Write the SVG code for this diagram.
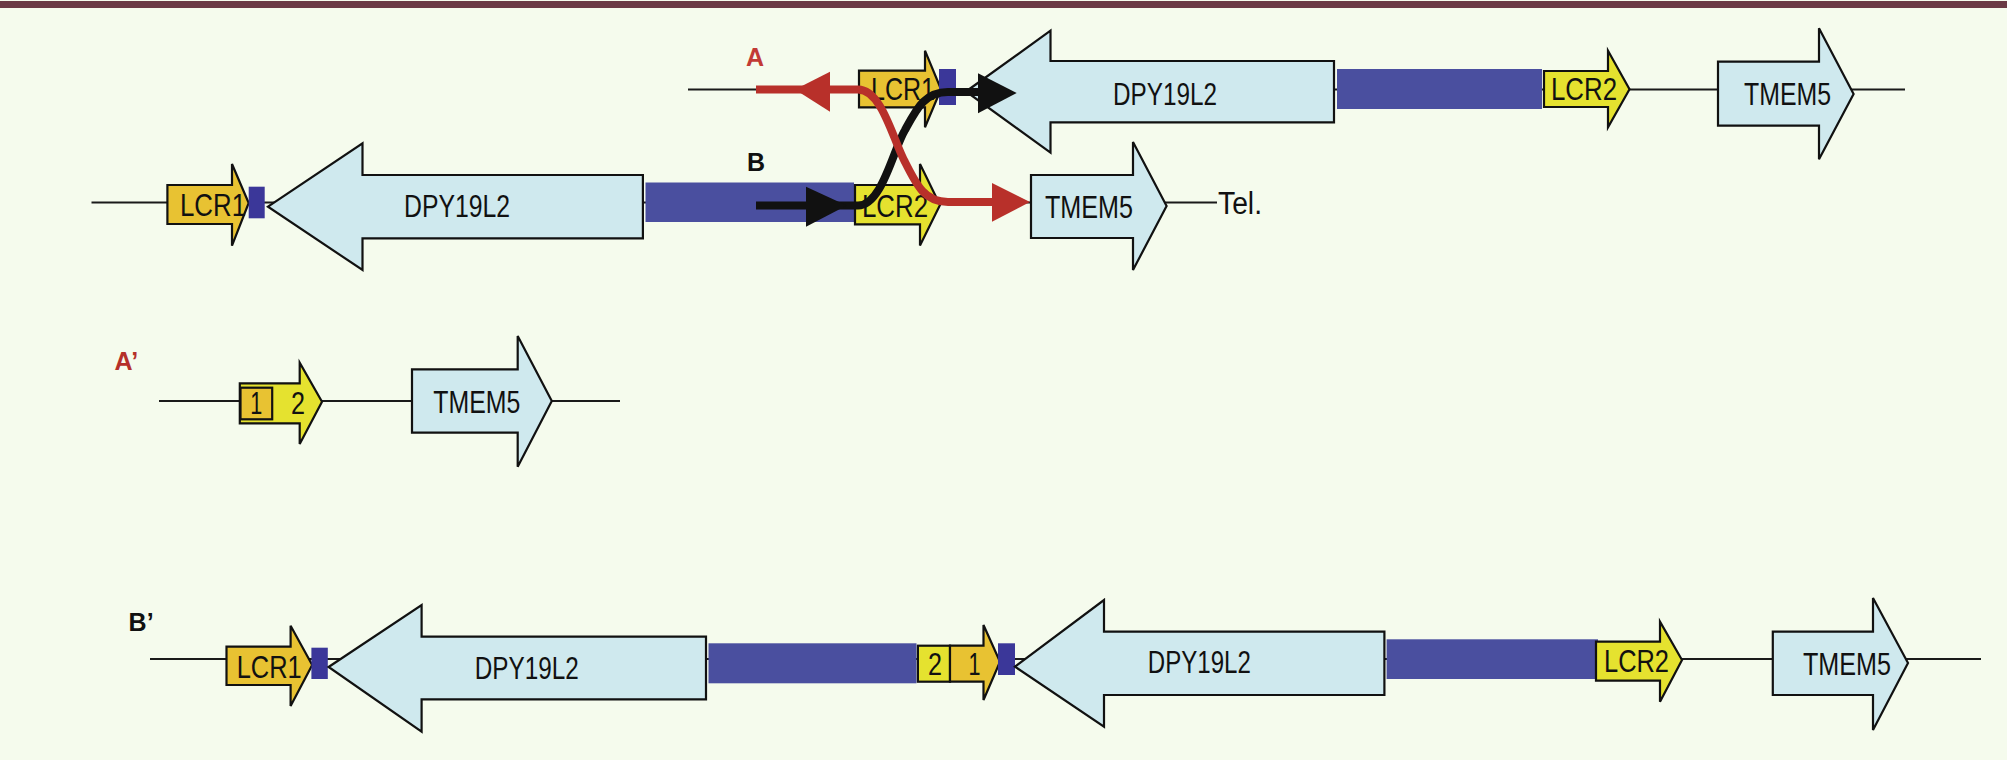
<svg xmlns="http://www.w3.org/2000/svg" width="2007" height="760" viewBox="0 0 2007 760">
<style>
.bg{fill:#f5fbed}
.topbar{fill:#6b3a45}
.bb{stroke:#1a1a1a;stroke-width:2;fill:none}
.gene{fill:#cfe9ee;stroke:#111;stroke-width:2.2;stroke-linejoin:miter}
.l1{fill:#e8c232;stroke:#111;stroke-width:2.2}
.l2{fill:#e5e22f;stroke:#111;stroke-width:2.2}
.bar{fill:#4a4f9f}
.sq{fill:#3b3799}
.t{font-family:"Liberation Sans",Arial,sans-serif;font-size:31px;fill:#111}
.lab{font-family:"Liberation Sans",Arial,sans-serif;font-weight:bold;font-size:25px}
.red{stroke:#b8302a;stroke-width:8;fill:none}
.blk{stroke:#111;stroke-width:8;fill:none}
.redh{fill:#b8302a}
.blkh{fill:#111}
</style>
<rect class="bg" x="0" y="0" width="2007" height="760"/>
<rect class="topbar" x="0" y="1" width="2007" height="7"/>

<g id="backbones">
<line class="bb" x1="688" y1="89.5" x2="1905" y2="89.5"/>
<line class="bb" x1="91.5" y1="202.5" x2="1217" y2="202.5"/>
<line class="bb" x1="159" y1="401" x2="620" y2="401"/>
<line class="bb" x1="150" y1="659" x2="1981" y2="659"/>
</g>

<!-- Row 1 -->
<g id="r1-lcr1">
<polygon class="l1" points="859,70.7 925,70.7 925,50.7 941,89.3 925,127.3 925,107.3 859,107.3"/>
<text class="t" x="871" y="100" textLength="64" lengthAdjust="spacingAndGlyphs">LCR1</text>
</g>
<g id="r1-sq"><rect class="sq" x="939" y="69" width="17" height="36"/></g>
<g id="r1-dpy19l2">
<polygon class="gene" points="966,91.5 1050.5,30.7 1050.5,61 1334,61 1334,122.3 1050.5,122.3 1050.5,152.7"/>
<text class="t" x="1113" y="105" textLength="104" lengthAdjust="spacingAndGlyphs">DPY19L2</text>
</g>
<g id="r1-bar"><rect class="bar" x="1337" y="69" width="205" height="40"/></g>
<g id="r1-lcr2">
<polygon class="l2" points="1544,71 1608,71 1608,50.7 1629.5,89.3 1608,127.3 1608,107 1544,107"/>
<text class="t" x="1551" y="100" textLength="66" lengthAdjust="spacingAndGlyphs">LCR2</text>
</g>
<g id="r1-tmem5">
<polygon class="gene" points="1718,61.7 1819,61.7 1819,28.3 1853.6,94 1819,159.3 1819,125.7 1718,125.7"/>
<text class="t" x="1744" y="105" textLength="87" lengthAdjust="spacingAndGlyphs">TMEM5</text>
</g>

<!-- Row 2 -->
<g id="r2-lcr1">
<polygon class="l1" points="167.4,185 232,185 232,164 248.7,203 232,245.7 232,224 167.4,224"/>
<text class="t" x="180" y="215.7" textLength="66" lengthAdjust="spacingAndGlyphs">LCR1</text>
</g>
<g id="r2-sq"><rect class="sq" x="248.7" y="186.7" width="16" height="31.6"/></g>
<g id="r2-dpy19l2">
<polygon class="gene" points="268,206.7 362.5,143.3 362.5,175 642.9,175 642.9,238.3 362.5,238.3 362.5,270"/>
<text class="t" x="404" y="216.7" textLength="106" lengthAdjust="spacingAndGlyphs">DPY19L2</text>
</g>
<g id="r2-bar"><rect class="bar" x="645.5" y="182.5" width="208.5" height="39.5"/></g>
<g id="r2-lcr2">
<polygon class="l2" points="855,185 920,185 920,164 940,205 920,245.5 920,224.3 855,224.3"/>
<text class="t" x="862" y="216.7" textLength="66" lengthAdjust="spacingAndGlyphs">LCR2</text>
</g>
<g id="r2-tmem5">
<polygon class="gene" points="1031,175 1133,175 1133,142 1166.6,206 1133,270 1133,238 1031,238"/>
<text class="t" x="1045" y="218" textLength="88" lengthAdjust="spacingAndGlyphs">TMEM5</text>
</g>
<g id="tel">
<text class="t" x="1218" y="214.3" font-size="30" textLength="44" lengthAdjust="spacingAndGlyphs">Tel.</text>
</g>

<!-- Row 3 -->
<g id="r3-fusion">
<polygon class="l2" points="239.8,383.3 299.7,383.3 299.7,362.7 322,401.7 299.7,444 299.7,423.3 239.8,423.3"/>
<rect class="l1" x="240.5" y="387.7" width="31.7" height="31.6"/>
<text class="t" x="256.3" y="414" font-size="29" text-anchor="middle" textLength="12" lengthAdjust="spacingAndGlyphs">1</text>
<text class="t" x="298" y="414" font-size="29" text-anchor="middle" textLength="14" lengthAdjust="spacingAndGlyphs">2</text>
</g>
<g id="r3-tmem5">
<polygon class="gene" points="412,369.3 517.7,369.3 517.7,336 551.8,401 517.7,466.7 517.7,432.7 412,432.7"/>
<text class="t" x="433.3" y="413.3" textLength="87" lengthAdjust="spacingAndGlyphs">TMEM5</text>
</g>

<!-- Row 4 -->
<g id="r4-lcr1">
<polygon class="l1" points="226.5,646.7 290.6,646.7 290.6,625.7 312.2,665 290.6,706 290.6,685 226.5,685"/>
<text class="t" x="236.7" y="678.3" textLength="65" lengthAdjust="spacingAndGlyphs">LCR1</text>
</g>
<g id="r4-sq1"><rect class="sq" x="311.4" y="647.7" width="16.4" height="31.3"/></g>
<g id="r4-dpy19l2-a">
<polygon class="gene" points="328.6,667 421.6,605 421.6,636.7 706,636.7 706,699.3 421.6,699.3 421.6,731.7"/>
<text class="t" x="474.7" y="679" textLength="104" lengthAdjust="spacingAndGlyphs">DPY19L2</text>
</g>
<g id="r4-bar1"><rect class="bar" x="708.5" y="643.3" width="208" height="40"/></g>
<g id="r4-fusion">
<rect class="l2" x="917.9" y="645.7" width="32.1" height="36"/>
<polygon class="l1" points="950,645.7 983.5,645.7 983.5,625 1000,661.7 983.5,700 983.5,681.7 950,681.7"/>
<text class="t" x="935" y="675" font-size="29" text-anchor="middle" textLength="14" lengthAdjust="spacingAndGlyphs">2</text>
<text class="t" x="974.5" y="675" font-size="29" text-anchor="middle" textLength="12" lengthAdjust="spacingAndGlyphs">1</text>
</g>
<g id="r4-sq2"><rect class="sq" x="998" y="643.3" width="17" height="31.7"/></g>
<g id="r4-dpy19l2-b">
<polygon class="gene" points="1015,666.7 1104,600 1104,631.7 1384.4,631.7 1384.4,695 1104,695 1104,726.7"/>
<text class="t" x="1147.8" y="673" textLength="103" lengthAdjust="spacingAndGlyphs">DPY19L2</text>
</g>
<g id="r4-bar2"><rect class="bar" x="1386.6" y="639.3" width="211.4" height="39.7"/></g>
<g id="r4-lcr2">
<polygon class="l2" points="1596,641.7 1660,641.7 1660,621.7 1682,660 1660,701.7 1660,680.7 1596,680.7"/>
<text class="t" x="1604" y="672" textLength="65" lengthAdjust="spacingAndGlyphs">LCR2</text>
</g>
<g id="r4-tmem5">
<polygon class="gene" points="1772.8,631.7 1873,631.7 1873,598 1908,663 1873,730 1873,695 1772.8,695"/>
<text class="t" x="1803" y="675" textLength="88" lengthAdjust="spacingAndGlyphs">TMEM5</text>
</g>

<!-- Labels -->
<g id="labels">
<text class="lab" x="746" y="66" fill="#c23a36">A</text>
<text class="lab" x="747" y="170.7" fill="#111">B</text>
<text class="lab" x="114.5" y="370" font-size="27" fill="#b5302a">A’</text>
<text class="lab" x="128.6" y="630.7" fill="#111">B’</text>
</g>

<!-- Connectors: crossover paths -->
<g id="connectors">
<path class="blk" d="M756,205.5 L858,205.5 C882,205.5 893,150 905,130 C917,108 925,92 948,92 L1000,92"/>
<polygon class="blkh" points="806,186.7 846.7,205.5 806,226.7"/>
<polygon class="blkh" points="978,73.3 1016.7,93 978,113.3"/>
<path class="red" d="M756,89.5 L858,89.5 C882,89.5 893,140 905,162 C917,186 925,202 948,202 L1000,202"/>
<polygon class="redh" points="830,71.7 795,89.5 830,111.7"/>
<polygon class="redh" points="992,183 1030,202 992,221.7"/>
</g>
</svg>
